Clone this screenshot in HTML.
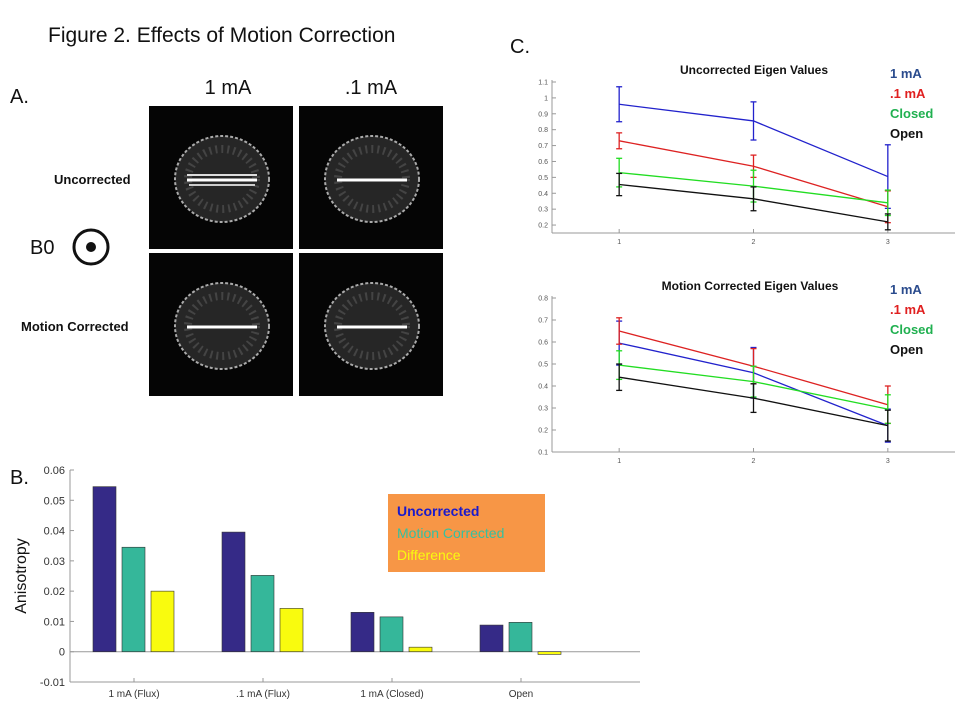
<!DOCTYPE html>
<html><head><meta charset="utf-8"><style>
body{margin:0;background:#fff;width:960px;height:720px;overflow:hidden;font-family:"Liberation Sans",sans-serif}
svg{position:absolute;left:0;top:0}
</style></head><body>
<svg id="fig" width="960" height="720" font-family="Liberation Sans, sans-serif">
<text x="48" y="42" font-size="21" fill="#111">Figure 2. Effects of Motion Correction</text>
<text x="10" y="103" font-size="20" fill="#111">A.</text>
<text x="10" y="484" font-size="20" fill="#111">B.</text>
<text x="510" y="53" font-size="20" fill="#111">C.</text>
<text x="228" y="94" font-size="20" text-anchor="middle" fill="#111">1 mA</text>
<text x="371" y="94" font-size="20" text-anchor="middle" fill="#111">.1 mA</text>
<text x="54" y="184" font-size="13" font-weight="bold" fill="#111">Uncorrected</text>
<text x="21" y="331" font-size="13" font-weight="bold" fill="#111">Motion Corrected</text>
<text x="30" y="254" font-size="20" fill="#111">B0</text>
<g><circle cx="91" cy="247" r="17" fill="none" stroke="#111" stroke-width="3"/><circle cx="91" cy="247" r="5" fill="#111"/></g>
<g id="mri"></g>
<g id="c1"></g>
<g id="c2"></g>
<g id="bar"></g>
</svg>
<script>
// Line chart data
const xCats=[1,2,3];
const seriesNames=["1 mA",".1 mA","Closed","Open"];
const u1=[0.96,0.855,0.505], u1e=[0.11,0.12,0.2];
const u2=[0.73,0.57,0.315], u2e=[0.05,0.07,0.1];
const u3=[0.53,0.445,0.34], u3e=[0.09,0.1,0.08];
const u4=[0.455,0.365,0.22], u4e=[0.07,0.075,0.05];
const uTicks=[0.2,0.3,0.4,0.5,0.6,0.7,0.8,0.9,1,1.1];
const m1=[0.595,0.46,0.22], m1e=[0.1,0.115,0.075];
const m2=[0.65,0.49,0.315], m2e=[0.06,0.08,0.085];
const m3=[0.495,0.42,0.295], m3e=[0.065,0.07,0.065];
const m4=[0.44,0.345,0.22], m4e=[0.06,0.065,0.07];
const mTicks=[0.1,0.2,0.3,0.4,0.5,0.6,0.7,0.8];
// Bar chart data
const barCats=["1 mA (Flux)",".1 mA (Flux)","1 mA (Closed)","Open"];
const uncorrected=[0.0545,0.0395,0.013,0.0088];
const motionCorrected=[0.0345,0.0252,0.0115,0.0097];
const difference=[0.02,0.0143,0.0015,-0.0009];
const barTicks=[-0.01,0,0.01,0.02,0.03,0.04,0.05,0.06];

const NS="http://www.w3.org/2000/svg";
function mk(p,t,a){const e=document.createElementNS(NS,t);for(const k in a)e.setAttribute(k,a[k]);p.appendChild(e);return e;}
function fmt(v){return String(+v.toFixed(3));}

// MRI panels
const mri=document.getElementById('mri');
const panels=[[149,106,1],[299,106,0],[149,253,0],[299,253,0]];
panels.forEach((p,i)=>{
  const g=mk(mri,'g',{});
  
  
  mk(g,'rect',{x:p[0],y:p[1],width:144,height:143,fill:'#050505'});
  const cx=p[0]+73,cy=p[1]+73;
  mk(g,'ellipse',{cx:cx,cy:cy,rx:47,ry:43,fill:'#262626',stroke:'#aaa','stroke-width':2,'stroke-dasharray':'3 2'});
  mk(g,'ellipse',{cx:cx,cy:cy,rx:34,ry:30,fill:'none',stroke:'#444','stroke-width':8,'stroke-dasharray':'2 4'});
  mk(g,'line',{x1:cx-35,y1:cy+1,x2:cx+35,y2:cy+1,stroke:'#fff','stroke-width':3});
  if(p[2]){mk(g,'line',{x1:cx-35,y1:cy-4,x2:cx+35,y2:cy-4,stroke:'#ddd','stroke-width':2});mk(g,'line',{x1:cx-33,y1:cy+6,x2:cx+33,y2:cy+6,stroke:'#ccc','stroke-width':2});}
});

// line charts
function lineChart(id,title,ticks,yMin,yMax,top,bot,series,errs,titleX){
  const g=document.getElementById(id);
  const L=552,R=955;
  const X=v=>L+(v-0.5)*(R-L)/3;
  const Y=v=>bot-(v-yMin)/(yMax-yMin)*(bot-top);
  mk(g,'line',{x1:L,y1:top-2,x2:L,y2:bot,stroke:'#999','stroke-width':1});
  mk(g,'line',{x1:L,y1:bot,x2:R,y2:bot,stroke:'#999','stroke-width':1});
  ticks.forEach(t=>{const y=Y(t);mk(g,'line',{x1:L,y1:y,x2:L+4,y2:y,stroke:'#999'});
    const tx=mk(g,'text',{x:L-4,y:y+2.5,'font-size':7,'text-anchor':'end',fill:'#555'});tx.textContent=fmt(t);});
  xCats.forEach(c=>{mk(g,'line',{x1:X(c),y1:bot,x2:X(c),y2:bot-4,stroke:'#999'});
    const tx=mk(g,'text',{x:X(c),y:bot+11,'font-size':7,'text-anchor':'middle',fill:'#555'});tx.textContent=c;});
  const cols=['#2222cc','#dd2222','#22dd22','#111'];
  series.forEach((s,si)=>{
    const pts=s.map((v,i)=>X(xCats[i])+','+Y(v)).join(' ');
    const pl=mk(g,'polyline',{points:pts,fill:'none',stroke:cols[si],'stroke-width':1.3});
    
    
    s.forEach((v,i)=>{const x=X(xCats[i]),e=errs[si][i];
      mk(g,'line',{x1:x,y1:Y(v-e),x2:x,y2:Y(v+e),stroke:cols[si],'stroke-width':1.3});
      mk(g,'line',{x1:x-3,y1:Y(v-e),x2:x+3,y2:Y(v-e),stroke:cols[si],'stroke-width':1.3});
      mk(g,'line',{x1:x-3,y1:Y(v+e),x2:x+3,y2:Y(v+e),stroke:cols[si],'stroke-width':1.3});});
  });
  const t=mk(g,'text',{x:titleX,y:top-8,'font-size':12,'font-weight':'bold','text-anchor':'middle',fill:'#111'});t.textContent=title;
  const lc=['#2a4b8d','#e02020','#20b050','#111'];
  seriesNames.forEach((n,i)=>{const tx=mk(g,'text',{x:890,y:top-4+i*20,'font-size':13,'font-weight':'bold',fill:lc[i]});
    tx.textContent=n;});
}
lineChart('c1','Uncorrected Eigen Values',uTicks,0.15,1.1,82,233,[u1,u2,u3,u4],[u1e,u2e,u3e,u4e],754);
lineChart('c2','Motion Corrected Eigen Values',mTicks,0.1,0.8,298,452,[m1,m2,m3,m4],[m1e,m2e,m3e,m4e],750);

// bar chart
(function(){
  const g=document.getElementById('bar');
  const L=70,R=640,top=470,bot=682;
  const Y=v=>bot-(v+0.01)/0.07*(bot-top);
  const gx=i=>134+i*129;
  mk(g,'line',{x1:L,y1:top,x2:L,y2:bot,stroke:'#999'});
  mk(g,'line',{x1:L,y1:bot,x2:R,y2:bot,stroke:'#999'});
  mk(g,'line',{x1:L,y1:Y(0),x2:R,y2:Y(0),stroke:'#999'});
  barTicks.forEach(t=>{const y=Y(t);mk(g,'line',{x1:L,y1:y,x2:L+4,y2:y,stroke:'#999'});
    const tx=mk(g,'text',{x:L-5,y:y+4,'font-size':11,'text-anchor':'end',fill:'#333'});tx.textContent=fmt(t);});
  const sets=[uncorrected,motionCorrected,difference],cols=['#352a87','#35b79a','#f9fb0e'];
  barCats.forEach((c,i)=>{const cx=gx(i);
    mk(g,'line',{x1:cx,y1:bot,x2:cx,y2:bot-4,stroke:'#999'});
    const tx=mk(g,'text',{x:cx,y:bot+15,'font-size':10,'text-anchor':'middle',fill:'#333'});tx.textContent=c;
    sets.forEach((s,si)=>{const v=s[i];const x=cx-41+si*29;const y0=Y(0),y1=Y(v);
      const r=mk(g,'rect',{x:x,y:Math.min(y0,y1),width:23,height:Math.max(1,Math.abs(y1-y0)),fill:cols[si],stroke:'#333','stroke-width':0.6});
      });
  });
  const yt=mk(g,'text',{x:0,y:0,'font-size':16,'text-anchor':'middle',fill:'#111',transform:'translate(26 576) rotate(-90)'});
  yt.textContent='Anisotropy';
  const lg=mk(g,'g',{});
  mk(lg,'rect',{x:388,y:494,width:157,height:78,fill:'#f79646'});
  const ln=['Uncorrected','Motion Corrected','Difference'],lcol=['#1a1acc','#35c0a0','#f9fb0e'];
  ln.forEach((n,i)=>{const t=mk(lg,'text',{x:397,y:516+i*22,'font-size':14,'font-weight':i==0?'bold':'normal',fill:lcol[i]});t.textContent=n;});
})();
</script>
</body></html>
